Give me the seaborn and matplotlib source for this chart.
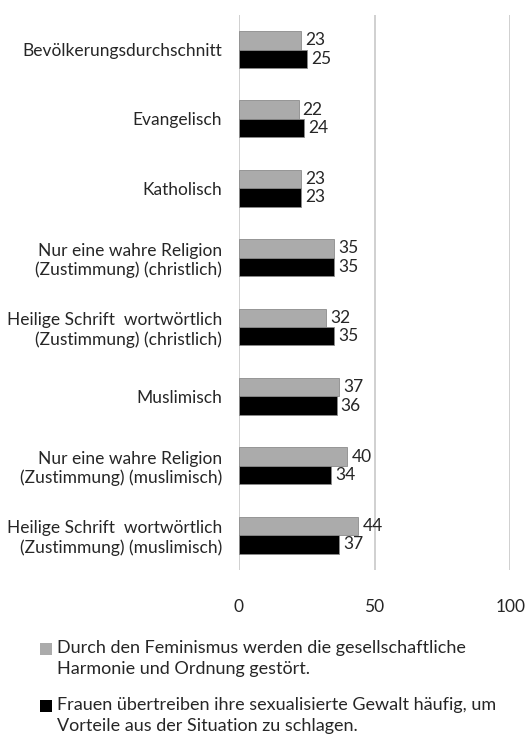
import pandas as pd
import seaborn as sns
import matplotlib.pyplot as plt
from matplotlib.patches import Rectangle

categories = [
    "Bevölkerungsdurchschnitt",
    "Evangelisch",
    "Katholisch",
    "Nur eine wahre Religion\n(Zustimmung) (christlich)",
    "Heilige Schrift  wortwörtlich\n(Zustimmung) (christlich)",
    "Muslimisch",
    "Nur eine wahre Religion\n(Zustimmung) (muslimisch)",
    "Heilige Schrift  wortwörtlich\n(Zustimmung) (muslimisch)",
]
series_names = [
    "Durch den Feminismus werden die gesellschaftliche\nHarmonie und Ordnung gestört.",
    "Frauen übertreiben ihre sexualisierte Gewalt häufig, um\nVorteile aus der Situation zu schlagen.",
]
feminismus = [23, 22, 23, 35, 32, 37, 40, 44]
uebertreiben = [25, 24, 23, 35, 35, 36, 34, 37]
x_ticks = [0, 50, 100]
colors = ["#ababab", "#000000"]

rows = []
for cat, a, b in zip(categories, feminismus, uebertreiben):
    rows.append({"Gruppe": cat, "Aussage": series_names[0], "Wert": a})
    rows.append({"Gruppe": cat, "Aussage": series_names[1], "Wert": b})
df = pd.DataFrame(rows)

sns.set_theme(style="white")
plt.rcParams['font.family'] = ['Lato', 'DejaVu Sans']

fig = plt.figure(figsize=(5.26, 7.41), dpi=100)
ax = fig.add_axes([0.454, 0.231, 0.516, 0.749])

sns.barplot(
    data=df, y="Gruppe", x="Wert", hue="Aussage", orient="h",
    palette=colors, width=0.53, ax=ax,
    edgecolor="#8c8c8c", linewidth=0.6, legend=False,
)

for container in ax.containers:
    ax.bar_label(container, fmt='%d', padding=3, fontsize=12.5)

ax.set_xlim(0, 100)
ax.set_xticks(x_ticks)
ax.tick_params(axis='x', labelsize=12.5, pad=21, length=0)
ax.tick_params(axis='y', labelsize=12.5, pad=12, length=0)
ax.set_xlabel("")
ax.set_ylabel("")
for x in x_ticks:
    ax.axvline(x, color="#c8c8c8", linewidth=1.2, zorder=0)
for s in ax.spines.values():
    s.set_visible(False)

# legend below the plot, square aligned with the first text line
W, H = 526, 741
legend_y = [649, 706]
for name, col, y in zip(series_names, colors, legend_y):
    fig.patches.append(Rectangle((40 / W, 1 - (y + 6) / H), 12 / W, 12 / H,
                                 transform=fig.transFigure, facecolor=col,
                                 edgecolor="none"))
    fig.text(57 / W, 1 - (y - 9) / H, name, fontsize=13, va="top", ha="left",
             linespacing=1.35)

plt.savefig("out.png", dpi=100)
